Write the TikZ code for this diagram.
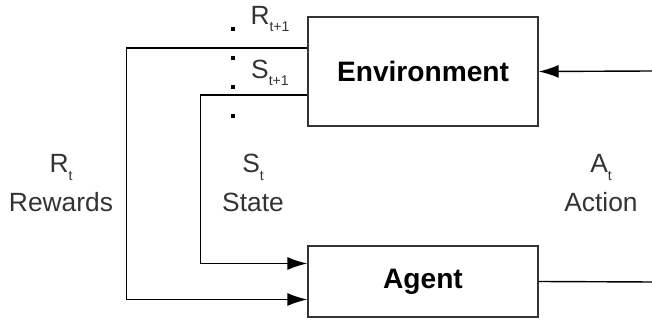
\documentclass[tikz,border=0pt]{standalone}
\usepackage{fontspec}
\setmainfont{Liberation Sans}
\usetikzlibrary{arrows.meta,positioning}
\definecolor{txtgray}{HTML}{333333}
\newcommand{\lowsub}[1]{\raisebox{-0.55ex}{\fontsize{8}{8}\selectfont #1}}

\begin{document}
\begin{tikzpicture}[>={Latex[length=4mm,width=2.6mm]},line width=0.8pt,
  box/.style={draw=txtgray,minimum width=4.6cm,font=\fontsize{16}{19}\selectfont\bfseries},
  lbl/.style={align=center,text=txtgray,font=\fontsize{15}{22}\selectfont},
  sig/.style={text=txtgray,font=\fontsize{15}{18}\selectfont},
  dot/.style={fill=black,minimum size=0.07cm,inner sep=0pt}]
  \useasboundingbox (0,0) rectangle (13.04,6.44);
  \node[box,minimum height=2.18cm] (env) at (8.46,5.01) {Environment};
  \node[box,minimum height=1.42cm] (agent) at (8.46,0.81) {Agent};
  \coordinate (envR) at (13.04,5.02);
  \coordinate (actR) at (13.04,0.80);
  % loop round the agent
  \draw[->] (envR) -- (env.east);
  \draw (agent.east) -- (actR);
  \draw[->] ([yshift=4.7mm]env.west) -- ++(-3.62,0) |- ([yshift=-3.6mm]agent.west);
  \draw[->] ([yshift=-4.7mm]env.west) -- ++(-2.14,0) |- ([yshift=3.6mm]agent.west);
  % dotted divider
  \foreach \y [count=\i] in {5.86,5.28,4.70,4.12}
    \node[dot] (d\i) at (4.66,\y) {};
  \node[sig] (rnext) at (5.4,6.06) {R\lowsub{t+1}};
  \node[sig] (snext) at (5.4,4.98) {S\lowsub{t+1}};
  \node[lbl] (rew) at (1.22,2.78) {R\lowsub{t}\\Rewards};
  \node[lbl] (st) at (5.06,2.78) {S\lowsub{t}\\State};
  \node[lbl] (act) at (12.02,2.78) {A\lowsub{t}\\Action};
\end{tikzpicture}
\end{document}
